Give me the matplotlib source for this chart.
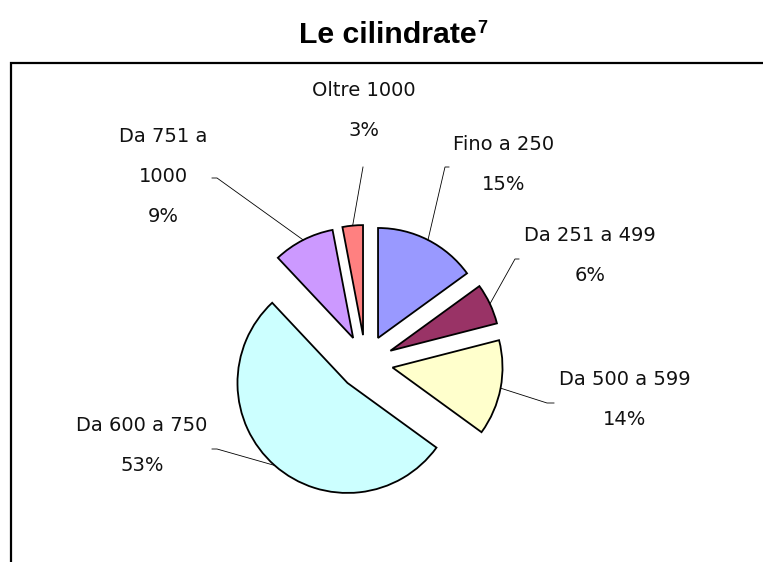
import matplotlib
matplotlib.use("Agg")
import matplotlib.pyplot as plt
from matplotlib.patches import Rectangle
import numpy as np

categories = ["Fino a 250", "Da 251 a 499", "Da 500 a 599", "Da 600 a 750", "Da 751 a\n1000", "Oltre 1000"]
values = [15, 6, 14, 53, 9, 3]
pct_labels = ["15%", "6%", "14%", "53%", "9%", "3%"]
colors = ["#9999FF", "#993366", "#FFFFCC", "#CCFFFF", "#CC99FF", "#FF8080"]

W, H = 763, 562
fig = plt.figure(figsize=(W / 100, H / 100), dpi=100)
ax = fig.add_axes([0, 0, 1, 1])

cx, cy = 365.6, H - 362.4
R = 110
EXPL = 27.4
wedges, _ = ax.pie(values, colors=colors, startangle=90, counterclock=False,
                   explode=[EXPL] * len(values), radius=R, center=(cx, cy),
                   wedgeprops=dict(edgecolor="black", linewidth=1.3))
ax.set_xlim(0, W)
ax.set_ylim(0, H)
ax.set_aspect("auto")
ax.axis("off")

# frame
ax.add_patch(Rectangle((11, -20), 900, H - 63 + 20, fill=False, edgecolor="black", linewidth=1.6))

# title
ax.text(477, H - 43, "Le cilindrate", ha="right", va="baseline", fontsize=21.8,
        fontweight="bold", family="Liberation Sans")
ax.text(477, H - 33, "7", ha="left", va="baseline", fontsize=13,
        fontweight="bold", family="Liberation Sans")

# label layout (screen px): text block centre, knee point, tick end
label_pos = [(504, 165), (590, 255.5), (625, 399.5), (142, 445.5), (163, 177), (364, 111)]
knees = [(445, 167), (515, 259), (547, 403), (217, 449), (217, 178), (363, 167)]
ends = [(449, 167), (519, 259), (554, 403), (212, 449), (212, 178), (363, 167)]

for w, cat, pct, lp, kn, en in zip(wedges, categories, pct_labels, label_pos, knees, ends):
    thm = np.deg2rad((w.theta1 + w.theta2) / 2)
    wx, wy = w.center
    px = wx + R * np.cos(thm)
    py = wy + R * np.sin(thm)
    ax.plot([px, kn[0], en[0]], [py, H - kn[1], H - en[1]], color="black", linewidth=0.6)
    ax.text(lp[0], H - lp[1], cat + "\n" + pct, ha="center", va="center",
            fontsize=14, linespacing=2.4, family="DejaVu Sans", color="#111111")

fig.savefig("out.png", dpi=100)
